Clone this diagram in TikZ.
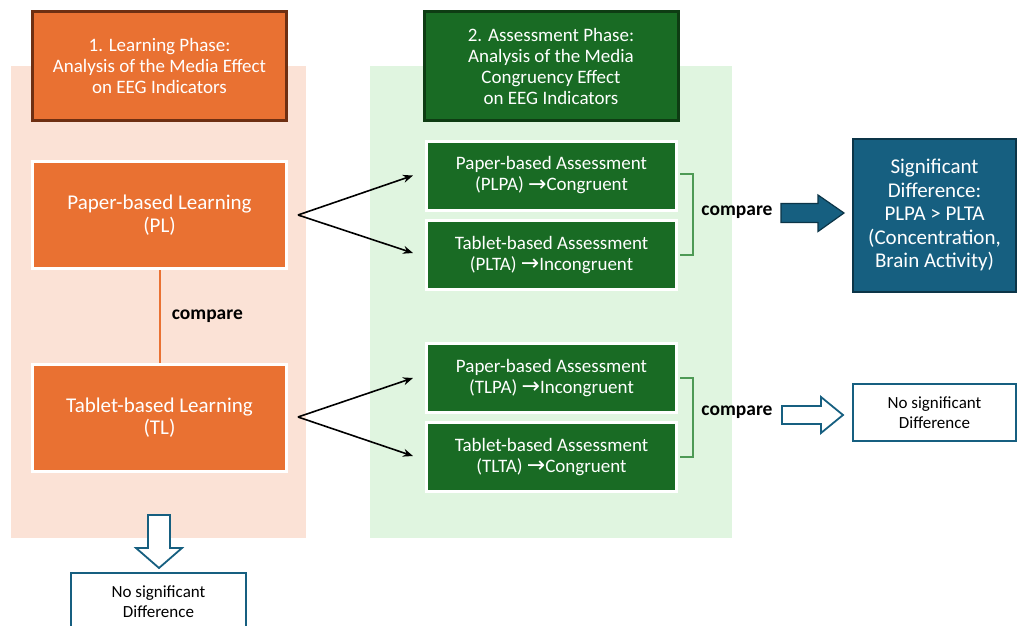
\documentclass[tikz,border=0pt]{standalone}
\usepackage{fontspec}
\setmainfont{Carlito}
\newfontfamily\arrfont{DejaVu Sans}
\usetikzlibrary{arrows.meta}
\definecolor{orng}{HTML}{E97132}
\definecolor{orngdk}{HTML}{6E2F12}
\definecolor{peach}{HTML}{FBE2D6}
\definecolor{grn}{HTML}{196B24}
\definecolor{grndk}{HTML}{0E3C13}
\definecolor{lgrn}{HTML}{E0F5E0}
\definecolor{brk}{HTML}{4E9A55}
\definecolor{blu}{HTML}{165F80}
\definecolor{bludk}{HTML}{0C3548}
\newcommand{\ar}{{\arrfont\fontsize{22}{22}\selectfont\raisebox{-0.5pt}{→}}}
\tikzset{
  hdr/.style={draw=#1, line width=3pt, minimum width=254pt, minimum height=109pt,
    text=white, align=center, font=\fontsize{19}{21}\selectfont},
  lbox/.style={draw=white, line width=3pt, fill=orng, minimum width=254pt, minimum height=107pt,
    text=white, align=center, font=\fontsize{21}{22.5}\selectfont},
  abox/.style={draw=white, line width=3pt, fill=grn, minimum width=250pt, minimum height=69pt,
    text=white, align=center, font=\fontsize{19}{21}\selectfont},
  cmp/.style={font=\bfseries\fontsize{19.5}{20}\selectfont, text=black},
  conn/.style={line width=1.6pt, -{Stealth[length=10pt,width=8pt]}},
  brkt/.style={draw=brk, line width=1.2pt},
  res/.style={draw=blu, line width=2pt, fill=white, align=center, text=black,
    font=\fontsize{17}{20}\selectfont},
}
\begin{document}
\begin{tikzpicture}[x=1pt,y=-1pt]
\useasboundingbox (0,0) rectangle (1017,626);
% backgrounds
\fill[peach] (11,66) rectangle (306,538);
\fill[lgrn] (370,66) rectangle (732,538);
% headers
\node[hdr=orngdk, fill=orng] (h1) at (159.5,66) {1. Learning Phase:\\Analysis of the Media Effect\\on EEG Indicators};
\node[hdr=grndk, fill=grn] (h2) at (551,66) {2. Assessment Phase:\\Analysis of the Media\\Congruency Effect\\on EEG Indicators};
% learning boxes
\node[lbox] (pl) at (159.5,215) {Paper-based Learning\\(PL)};
\node[lbox] (tl) at (159.5,417.5) {Tablet-based Learning\\(TL)};
\draw[orng, line width=2pt] (pl.south) -- (tl.north) node[midway, right=8pt, cmp] (c1) {compare};
% assessment boxes
\node[abox] (plpa) at (551.5,175.5) {Paper-based Assessment\\(PLPA) \ar Congruent};
\node[abox] (plta) at (551.5,255) {Tablet-based Assessment\\(PLTA) \ar Incongruent};
\node[abox] (tlpa) at (551.5,378) {Paper-based Assessment\\(TLPA) \ar Incongruent};
\node[abox] (tlta) at (551.5,457) {Tablet-based Assessment\\(TLTA) \ar Congruent};
% connectors
\coordinate (plo) at (298,215);
\coordinate (tlo) at (298,417);
\draw[conn] (plo) -- ([xshift=-12pt]plpa.west);
\draw[conn] (plo) -- ([xshift=-12pt,yshift=2pt]plta.west);
\draw[conn] (tlo) -- ([xshift=-12pt]tlpa.west);
\draw[conn] (tlo) -- ([xshift=-12pt,yshift=1pt]tlta.west);
% brackets
\draw[brkt] ([xshift=2pt,yshift=1.5pt]plpa.east) -- ++(13,0) |- ([xshift=2pt]plta.east);
\draw[brkt] ([xshift=2pt]tlpa.east) -- ++(13,0) |- ([xshift=2pt]tlta.east);
\node[cmp] (c2) at (737,212) {compare};
\node[cmp] (c3) at (737,412) {compare};
% results
\node[draw=bludk, line width=2pt, fill=blu, minimum width=163pt, minimum height=153pt,
  text=white, align=center, font=\fontsize{21}{23.5}\selectfont] (sig) at (934.5,215)
  {Significant\\Difference:\\PLPA > PLTA\\(Concentration,\\Brain Activity)};
\node[res, minimum width=163pt, minimum height=57pt] (ns1) at (934.5,412.5) {No significant\\Difference};
\node[res, minimum width=175pt, minimum height=58pt] (ns2) at (158.5,602) {No significant\\Difference};
% block arrows
\fill[blu, draw=bludk, line width=1.2pt] (781,203.5) -- (818,203.5) -- (818,195) -- (844,213) -- (818,231.5) -- (818,222.5) -- (781,222.5) -- cycle;
\draw[blu, fill=white, line width=1.8pt] (782,406) -- (821,406) -- (821,397) -- (843,415) -- (821,433) -- (821,424) -- (782,424) -- cycle;
\draw[blu, fill=white, line width=1.8pt] (148,515) -- (170,515) -- (170,548) -- (182,548) -- (159,568) -- (136,548) -- (148,548) -- cycle;
\end{tikzpicture}
\end{document}
